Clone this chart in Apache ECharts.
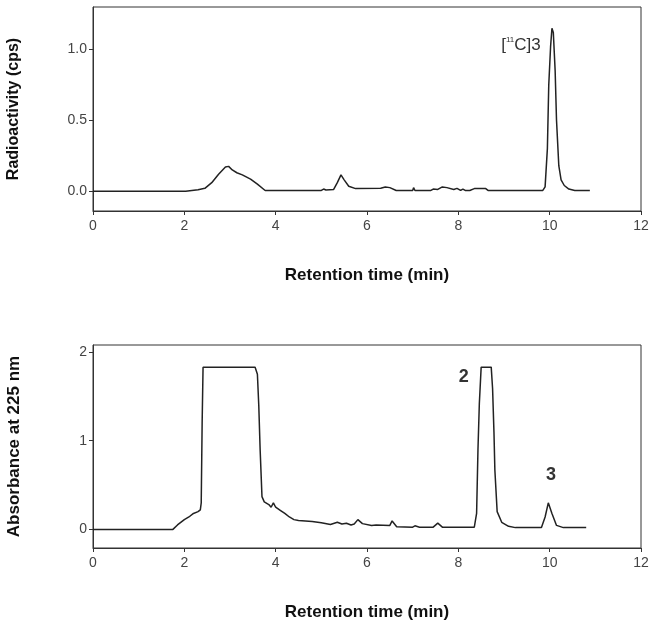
<!DOCTYPE html>
<html>
<head>
<meta charset="utf-8">
<script src="https://cdn.jsdelivr.net/npm/echarts@6/dist/echarts.min.js"></script>
<style>
  html, body { margin: 0; padding: 0; background: #fff; }
  #chart { width: 654px; height: 629px; }
</style>
</head>
<body>
<div id="chart"></div>
<script>
// radioactivity trace (top panel)
var topTimes = [0, 2.03, 2.05, 2.3, 2.45, 2.6, 2.75, 2.9, 2.97, 3.05, 3.15, 3.27, 3.45, 3.6, 3.77,
  5.0, 5.05, 5.1, 5.27, 5.35, 5.43, 5.5, 5.6, 5.75, 6.3, 6.4, 6.5, 6.64, 7.0, 7.02, 7.05,
  7.4, 7.45, 7.55, 7.65, 7.75, 7.9, 7.97, 8.05, 8.1, 8.15, 8.25, 8.35, 8.6, 8.65,
  9.85, 9.9, 9.95, 9.98, 10.02, 10.05, 10.08, 10.12, 10.15, 10.2, 10.25, 10.32, 10.42, 10.55, 10.88];
var topValues = [0, 0, 0.008, 0.01, 0.02, 0.06, 0.12, 0.17, 0.175, 0.15, 0.13, 0.115, 0.085, 0.05, 0.005,
  0.005, 0.015, 0.008, 0.012, 0.06, 0.115, 0.08, 0.035, 0.018, 0.02, 0.03, 0.025, 0.005, 0.005, 0.025, 0.005,
  0.005, 0.015, 0.012, 0.03, 0.025, 0.012, 0.02, 0.005, 0.015, 0.005, 0.005, 0.018, 0.018, 0.005,
  0.005, 0.03, 0.3, 0.75, 1.02, 1.15, 1.12, 0.85, 0.5, 0.18, 0.08, 0.04, 0.015, 0.005, 0.005];

// UV trace (bottom panel)
var bottomTimes = [0, 1.75, 1.85, 2.0, 2.1, 2.2, 2.3, 2.35, 2.37, 2.39, 2.41, 3.55, 3.6, 3.63, 3.66, 3.7,
  3.75, 3.85, 3.9, 3.95, 4.0, 4.1, 4.2, 4.3, 4.4, 4.5, 4.8, 5.0, 5.2, 5.35, 5.45, 5.55, 5.65, 5.72,
  5.8, 5.9, 6.1, 6.2, 6.5, 6.55, 6.65, 7.0, 7.05, 7.15, 7.45, 7.55, 7.65, 8.35, 8.4, 8.43, 8.46,
  8.5, 8.72, 8.75, 8.78, 8.8, 8.85, 8.95, 9.1, 9.25, 9.82, 9.9, 9.97, 10.05, 10.15, 10.3, 10.8];
var bottomValues = [0, 0, 0.05, 0.11, 0.14, 0.18, 0.2, 0.22, 0.3, 1.2, 1.83, 1.83, 1.75, 1.4, 0.9, 0.37,
  0.31, 0.28, 0.25, 0.3, 0.25, 0.215, 0.18, 0.14, 0.11, 0.1, 0.09, 0.075, 0.055, 0.08, 0.06, 0.07, 0.05, 0.06,
  0.11, 0.065, 0.045, 0.05, 0.045, 0.095, 0.03, 0.025, 0.04, 0.025, 0.025, 0.07, 0.025, 0.025, 0.18, 0.9, 1.42,
  1.83, 1.83, 1.59, 1.1, 0.67, 0.2, 0.08, 0.035, 0.02, 0.02, 0.14, 0.3, 0.18, 0.045, 0.02, 0.02];

var topYTicks = [0, 0.5, 1.0];
var bottomYTicks = [0, 1, 2];

function pairs(xs, ys) {
  return xs.map(function (x, i) { return [x, ys[i]]; });
}

var lineCol = '#222';
var axisCol = '#333';
var labelCol = '#444';
var font = 'Liberation Sans, Arial, sans-serif';

function xAxisFor(idx) {
  return {
    gridIndex: idx,
    type: 'value',
    min: 0,
    max: 12,
    interval: 2,
    name: 'Retention time (min)',
    nameLocation: 'middle',
    nameGap: 56,
    nameTextStyle: { fontFamily: font, fontWeight: 'bold', fontSize: 17, color: '#111' },
    axisLine: { show: true, onZero: false, lineStyle: { color: axisCol, width: 1 } },
    axisTick: { show: true, length: 4, lineStyle: { color: axisCol } },
    axisLabel: { fontFamily: font, fontSize: 14, color: labelCol, margin: 8 },
    splitLine: { show: false }
  };
}

var myChart = echarts.init(document.getElementById('chart'));
myChart.setOption({
  animation: false,
  grid: [
    { left: 93, right: 13, top: 7, height: 204, outerBoundsMode: 'none', containLabel: false,
      show: true, borderColor: axisCol, borderWidth: 1 },
    { left: 93, right: 13, top: 345, height: 203, outerBoundsMode: 'none', containLabel: false,
      show: true, borderColor: axisCol, borderWidth: 1 }
  ],
  xAxis: [xAxisFor(0), xAxisFor(1)],
  yAxis: [
    {
      gridIndex: 0,
      type: 'value',
      min: -0.14,
      max: 1.3,
      name: 'Radioactivity (cps)',
      nameLocation: 'middle',
      nameGap: 71,
      nameTextStyle: { fontFamily: font, fontWeight: 'bold', fontSize: 16, color: '#111' },
      axisLine: { show: true, lineStyle: { color: axisCol } },
      axisTick: { show: true, length: 4, customValues: topYTicks, lineStyle: { color: axisCol } },
      axisLabel: {
        fontFamily: font, fontSize: 14, color: labelCol, margin: 6,
        customValues: topYTicks,
        formatter: function (v) { return v.toFixed(1); }
      },
      splitLine: { show: false }
    },
    {
      gridIndex: 1,
      type: 'value',
      min: -0.21,
      max: 2.08,
      name: 'Absorbance at 225 nm',
      nameLocation: 'middle',
      nameGap: 70,
      nameTextStyle: { fontFamily: font, fontWeight: 'bold', fontSize: 17, color: '#111' },
      axisLine: { show: true, lineStyle: { color: axisCol } },
      axisTick: { show: true, length: 4, customValues: bottomYTicks, lineStyle: { color: axisCol } },
      axisLabel: {
        fontFamily: font, fontSize: 14, color: labelCol, margin: 6,
        customValues: bottomYTicks
      },
      splitLine: { show: false }
    }
  ],
  series: [
    {
      type: 'line',
      xAxisIndex: 0,
      yAxisIndex: 0,
      data: pairs(topTimes, topValues),
      showSymbol: false,
      lineStyle: { color: lineCol, width: 1.5 },
      markPoint: {
        symbol: 'circle',
        symbolSize: 0,
        data: [{
          coord: [9.37, 1.03],
          label: {
            show: true,
            position: 'inside',
            formatter: '{a|[}{s|11}{a|C]3}',
            rich: {
              a: { fontFamily: font, fontSize: 17, color: '#333', lineHeight: 18 },
              s: { fontFamily: font, fontSize: 8, color: '#333', verticalAlign: 'top', lineHeight: 18 }
            }
          }
        }]
      }
    },
    {
      type: 'line',
      xAxisIndex: 1,
      yAxisIndex: 1,
      data: pairs(bottomTimes, bottomValues),
      showSymbol: false,
      lineStyle: { color: lineCol, width: 1.5 },
      markPoint: {
        symbol: 'circle',
        symbolSize: 0,
        label: {
          show: true,
          position: 'inside',
          fontFamily: font,
          fontSize: 18,
          fontWeight: 'bold',
          color: '#333'
        },
        data: [
          { coord: [8.12, 1.72], value: '2' },
          { coord: [10.03, 0.61], value: '3' }
        ]
      }
    }
  ]
});
</script>
</body>
</html>
